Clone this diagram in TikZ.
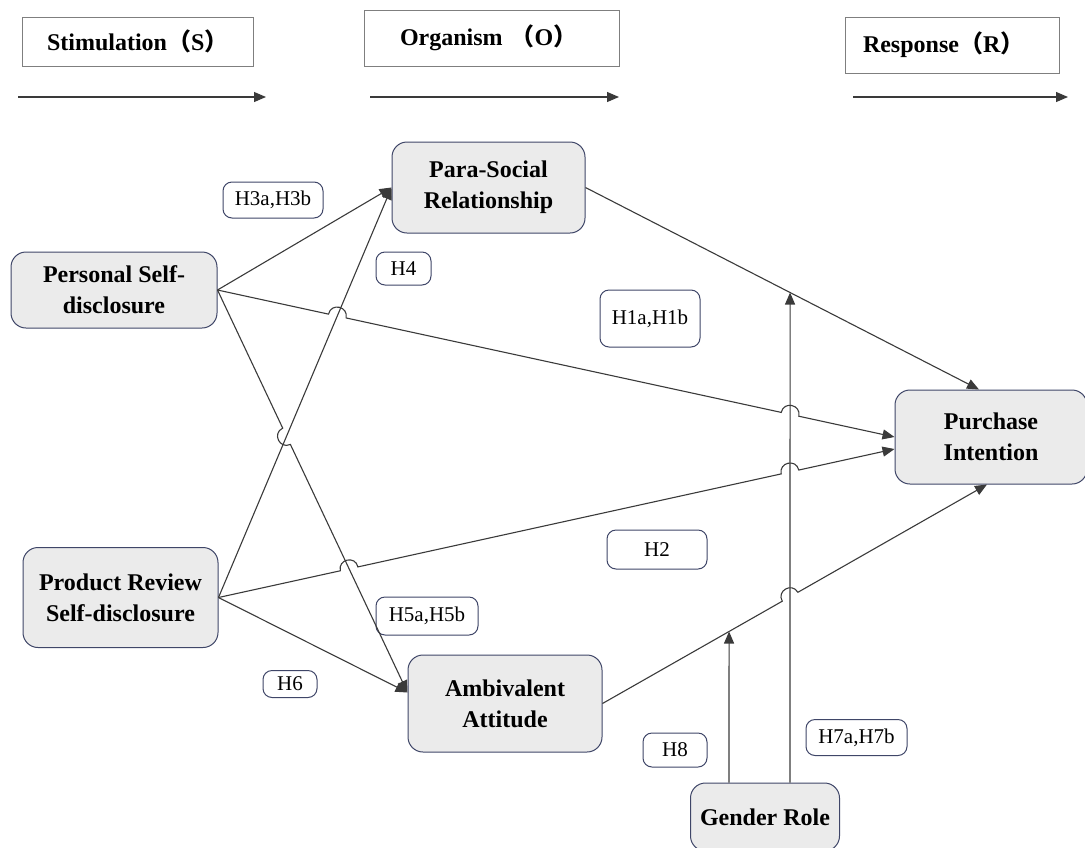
\documentclass[tikz,border=0pt]{standalone}
\usepackage{fontspec}
\setmainfont{Liberation Serif}
\newfontfamily\cjk{Noto Sans CJK SC}
\usetikzlibrary{arrows.meta,calc}
\definecolor{boxline}{HTML}{3F4668}
\definecolor{boxfill}{HTML}{EBEBEB}
\definecolor{stageline}{HTML}{7F7F7F}
\definecolor{arrowline}{HTML}{3A3A3A}

\begin{document}
\begin{tikzpicture}[x=1pt, y=-1pt,
	construct/.style = {draw=boxline, fill=boxfill, line width=1pt, rounded corners=15pt, align=center, inner sep=0pt, font=\fontsize{24}{31}\selectfont\bfseries},
	hypo/.style = {draw=boxline, fill=white, line width=1pt, rounded corners=9pt, inner sep=0pt, font=\fontsize{21}{24}\selectfont},
	stage/.style = {draw=stageline, line width=1pt, inner sep=0pt, align=left, font=\fontsize{24}{28}\selectfont\bfseries},
	link/.style = {draw=arrowline, line width=1.1pt, -{Triangle[length=12pt,width=10pt]}},
	hop/.style = {bend left=90, looseness=1.7},]
		\useasboundingbox (0,0) rectangle (1085,847);

		% stages
		\node[stage, minimum width=231pt, minimum height=49pt, text width=181pt] (S) at (137.5,41.5) {Stimulation{\cjk（}S{\cjk）}};
		\node[stage, minimum width=255pt, minimum height=56pt, text width=183pt] (O) at (491.5,38) {Organism {\cjk（}O{\cjk）}};
		\node[stage, minimum width=214pt, minimum height=56pt, text width=178pt] (R) at (952,45) {Response{\cjk（}R{\cjk）}};
		\coordinate (s1) at (18,97);  \coordinate (s2) at (266,97);
		\coordinate (o1) at (370,97); \coordinate (o2) at (619,97);
		\coordinate (r1) at (853,97); \coordinate (r2) at (1068,97);
		\draw[link] (s1) -- (s2);
		\draw[link] (o1) -- (o2);
		\draw[link] (r1) -- (r2);

		% constructs
		\node[construct, minimum width=193pt, minimum height=91pt] (PSR) at (488.5,187.5) {Para-Social\\Relationship};
		\node[construct, minimum width=206pt, minimum height=76pt] (PS) at (114,290) {Personal Self-\\disclosure};
		\node[construct, minimum width=195pt, minimum height=100pt] (PR) at (120.5,597.5) {Product Review\\Self-disclosure};
		\node[construct, minimum width=194pt, minimum height=97pt] (AA) at (505,703.5) {Ambivalent\\Attitude};
		\node[construct, minimum width=192pt, minimum height=94pt] (PI) at (991,437) {Purchase\\Intention};
		\node[construct, minimum width=149pt, minimum height=68pt] (GR) at (765,817) {Gender Role};

		% hypotheses
		\node[hypo, minimum width=100pt, minimum height=36pt] (H3) at (273,200) {H3a,H3b};
		\node[hypo, minimum width=55pt, minimum height=33pt] (H4) at (403.5,268.5) {H4};
		\node[hypo, minimum width=100pt, minimum height=57pt] (H1) at (650,318.5) {H1a,H1b};
		\node[hypo, minimum width=100pt, minimum height=39pt] (H2) at (657,549.5) {H2};
		\node[hypo, minimum width=102pt, minimum height=38pt] (H5) at (427,616) {H5a,H5b};
		\node[hypo, minimum width=54pt, minimum height=27pt] (H6) at (290,684) {H6};
		\node[hypo, minimum width=64pt, minimum height=34pt] (H8) at (675,750) {H8};
		\node[hypo, minimum width=101pt, minimum height=36pt] (H7) at (856.5,737.5) {H7a,H7b};

		% ends and crossings
		\coordinate (PIt) at ([xshift=-12pt]PI.north);
		\coordinate (PIb) at ([xshift=-4pt]PI.south);
		\coordinate (PIw) at ([yshift=-12pt]PI.west);
		\coordinate (AAw) at ([yshift=11pt]AA.west);
		\coordinate (G1) at ([xshift=-36pt]GR.north);
		\coordinate (G2) at ([xshift=25pt]GR.north);
		\coordinate (G1u) at ([yshift=600pt]G1);
		\coordinate (G2u) at ([yshift=600pt]G2);
		\coordinate (M1) at (intersection of PSR.east--PIt and G2--G2u);
		\coordinate (M2) at (intersection of AA.east--PIb and G1--G1u);
		\coordinate (X1) at (intersection of PS.east--PI.west and PR.east--PSR.west);
		\coordinate (X2) at (intersection of PS.east--PI.west and G2--G2u);
		\coordinate (X3) at (intersection of PS.east--AAw and PR.east--PSR.west);
		\coordinate (X4) at (intersection of PR.east--PIw and PS.east--AAw);
		\coordinate (X5) at (intersection of PR.east--PIw and G2--G2u);
		\coordinate (X6) at (intersection of AA.east--PIb and G2--G2u);

		% paths
		\draw[link] (PS.east) -- (PSR.west);
		\draw[link] (PR.east) -- (PSR.west);
		\draw[link] (PR.east) -- (AAw);
		\draw[link] (PSR.east) -- (PIt);
		\draw[link] (PS.east) -- ($(X1)!9pt!(PS.east)$) to[hop] ($(X1)!9pt!(PI.west)$)
			-- ($(X2)!9pt!(PS.east)$) to[hop] ($(X2)!9pt!(PI.west)$) -- (PI.west);
		\draw[link] (PS.east) -- ($(X3)!9pt!(PS.east)$) to[hop, bend right=90] ($(X3)!9pt!(AAw)$) -- (AAw);
		\draw[link] (PR.east) -- ($(X4)!9pt!(PR.east)$) to[hop] ($(X4)!9pt!(PIw)$)
			-- ($(X5)!9pt!(PR.east)$) to[hop] ($(X5)!9pt!(PIw)$) -- (PIw);
		\draw[link] (AA.east) -- ($(X6)!9pt!(AA.east)$) to[hop] ($(X6)!9pt!(PIb)$) -- (PIb);
		\draw[link] (G1) -- (M2);
		\draw[link] (G2) -- (M1);
	\end{tikzpicture}
\end{document}
